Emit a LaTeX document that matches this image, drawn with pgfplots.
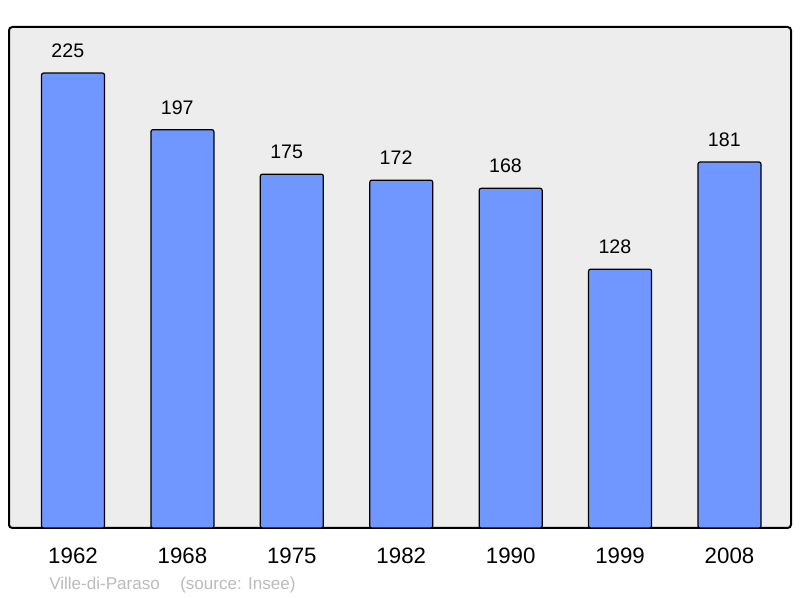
\documentclass[border=0pt]{standalone}
\usepackage{fontspec}
\setmainfont{Liberation Sans}
\usepackage{pgfplots}
\pgfplotsset{compat=1.18}
\definecolor{barblue}{RGB}{112,150,255}
\definecolor{bggray}{RGB}{237,237,237}
\definecolor{srcgray}{RGB}{187,187,187}
\begin{document}
\begin{tikzpicture}
\useasboundingbox (-6.75pt,-52.5pt) rectangle (593.25pt,396pt);
\begin{axis}[
    at={(0,0)}, anchor=south west,
    scale only axis,
    width=586.5pt, height=375.75pt,
    xmin=-0.585, xmax=6.562,
    ymin=0, ymax=247.8,
    axis background/.style={fill=bggray},
    axis line style={line width=1.5pt, rounded corners=2.5pt},
    xtick=data,
    xticklabels={1962,1968,1975,1982,1990,1999,2008},
    ytick=\empty,
    major tick length=0pt,
    /pgf/number format/assume math mode=true,
    xticklabel style={font=\fontsize{16.7}{19}\selectfont, anchor=north, inner sep=0pt, yshift=-15pt},
    ybar, bar width=47.25pt,
    nodes near coords,
    every node near coord/.append style={font=\fontsize{14.7}{17}\selectfont, anchor=south, inner sep=0pt, yshift=11pt, xshift=-3.9pt},
]
\addplot[fill=barblue, draw=black, line width=0.9pt, rounded corners=1.5pt]
    coordinates {(0,225) (1,197) (2,175) (3,172) (4,168) (5,128) (6,181)};
\end{axis}
\node[anchor=base west, inner sep=0pt, text=srcgray, font=\fontsize{12.8}{15}\selectfont] at (30pt,-46.5pt) {Ville-di-Paraso};
\node[anchor=base west, inner sep=0pt, text=srcgray, font=\fontsize{12.8}{15}\selectfont] at (128.25pt,-46.5pt) {(source: Insee)};
\end{tikzpicture}
\end{document}
